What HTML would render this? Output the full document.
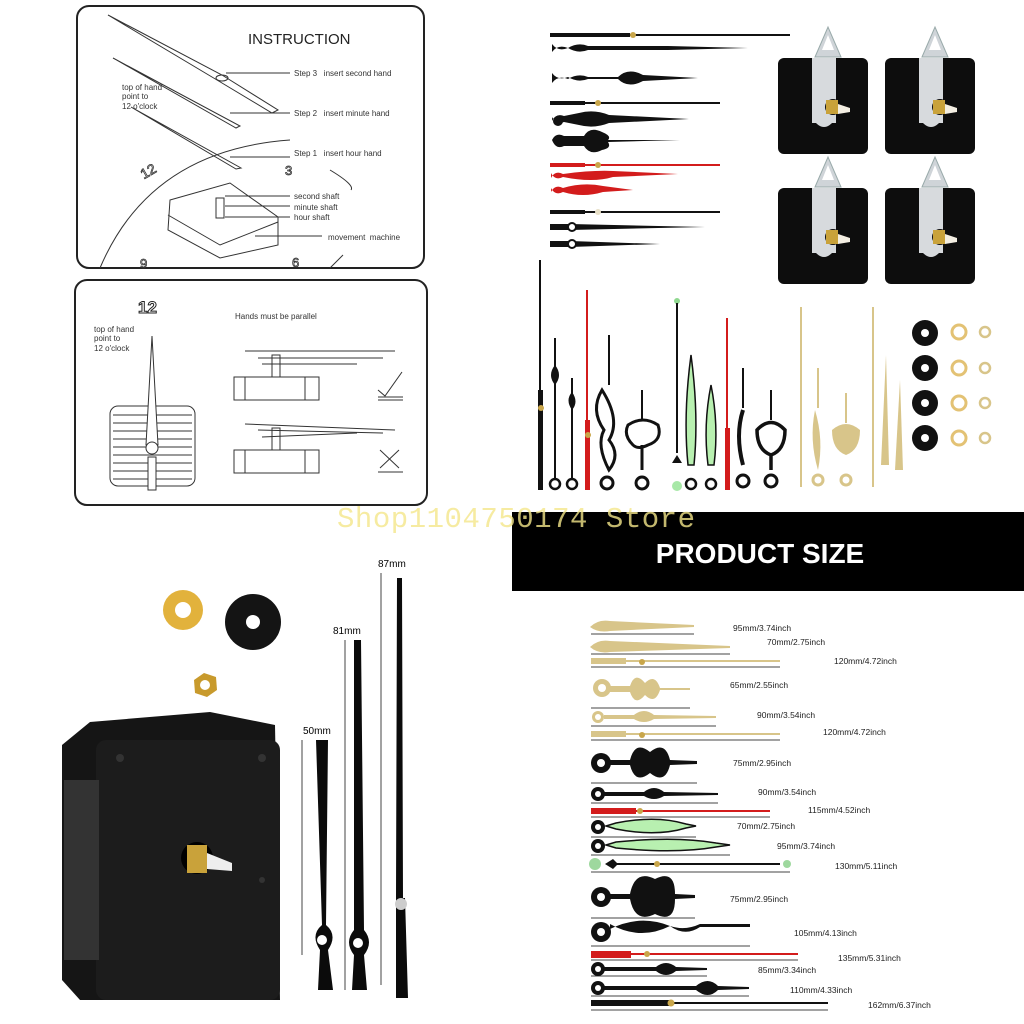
<!DOCTYPE html>
<html><head><meta charset="utf-8"><style>
html,body{margin:0;padding:0;background:#fff}
svg{display:block}
text{font-family:"Liberation Sans",sans-serif}
</style></head><body>
<svg width="1024" height="1024" viewBox="0 0 1024 1024" xmlns="http://www.w3.org/2000/svg">
<rect width="1024" height="1024" fill="#fff"/>
<rect x="77" y="6" width="347" height="262" rx="12" fill="#fff" stroke="#222" stroke-width="2"/>
<text x="248" y="44" font-size="15" fill="#222">INSTRUCTION</text>
<g fill="none" stroke="#333" stroke-width="1">
<path d="M100 268 Q150 150 290 140"/>
<path d="M330 170 Q355 185 351 190"/>
<path d="M330 268 Q340 258 343 255"/>
<path d="M108 15 L222 75 L278 110 L272 113 L217 80 Z"/>
<path d="M113 58 L240 126 L236 128 Z"/>
<path d="M131 107 L241 168 L236 169 Z"/>
<ellipse cx="222" cy="78" rx="6" ry="3"/>
<path d="M170 200 L230 183 L278 217 L278 245 L220 258 L168 230 Z"/>
<path d="M168 215 L220 245 L278 222"/>
<rect x="216" y="198" width="8" height="20"/>
<line x1="226" y1="73" x2="290" y2="73"/><line x1="230" y1="113" x2="290" y2="113"/>
<line x1="230" y1="157" x2="290" y2="157"/><line x1="225" y1="196" x2="290" y2="196"/>
<line x1="225" y1="206" x2="290" y2="206"/><line x1="225" y1="217" x2="290" y2="217"/>
<line x1="255" y1="236" x2="322" y2="236"/>
</g>
<text x="122" y="90" font-size="8" fill="#333">top of hand</text>
<text x="122" y="99" font-size="8" fill="#333">point to</text>
<text x="122" y="109" font-size="8" fill="#333">12 o'clock</text>
<text x="294" y="76" font-size="8" fill="#333">Step 3 &#160; insert second hand</text>
<text x="294" y="116" font-size="8" fill="#333">Step 2 &#160; insert minute hand</text>
<text x="294" y="156" font-size="8" fill="#333">Step 1 &#160; insert hour hand</text>
<text x="294" y="199" font-size="8" fill="#333">second shaft</text>
<text x="294" y="210" font-size="8" fill="#333">minute shaft</text>
<text x="294" y="220" font-size="8" fill="#333">hour shaft</text>
<text x="328" y="240" font-size="8" fill="#333">movement &#160;machine</text>
<text x="140" y="175" font-size="14" fill="none" stroke="#333" stroke-width="0.8" transform="rotate(-30 150 170)">12</text>
<text x="285" y="175" font-size="13" fill="none" stroke="#333" stroke-width="0.8">3</text>
<text x="140" y="268" font-size="13" fill="none" stroke="#333" stroke-width="0.8">9</text>
<text x="292" y="267" font-size="13" fill="none" stroke="#333" stroke-width="0.8">6</text>
<rect x="75" y="280" width="352" height="225" rx="12" fill="#fff" stroke="#222" stroke-width="2"/>
<text x="138" y="313" font-size="17" font-weight="bold" fill="none" stroke="#222" stroke-width="1">12</text>
<text x="94" y="332" font-size="8" fill="#333">top of hand</text>
<text x="94" y="341" font-size="8" fill="#333">point to</text>
<text x="94" y="351" font-size="8" fill="#333">12 o'clock</text>
<text x="235" y="319" font-size="8" fill="#333">Hands must be parallel</text>
<g fill="none" stroke="#333" stroke-width="1">
<rect x="110" y="406" width="85" height="80" rx="8"/>
<path d="M113 415 H192 M113 423 H192 M113 431 H192 M113 439 H192 M113 447 H192 M113 455 H192 M113 463 H192 M113 471 H192 M113 479 H192"/>
<path d="M152 336 L146 445 L158 445 Z" fill="#fff"/>
<rect x="148" y="457" width="8" height="33" fill="#fff"/>
<circle cx="152" cy="448" r="6" fill="#fff"/>
<rect x="234" y="377" width="85" height="23"/><line x1="245" y1="377" x2="245" y2="400"/><line x1="305" y1="377" x2="305" y2="400"/>
<rect x="234" y="450" width="85" height="23"/><line x1="245" y1="450" x2="245" y2="473"/><line x1="305" y1="450" x2="305" y2="473"/>
<rect x="272" y="355" width="8" height="22"/><rect x="272" y="428" width="8" height="22"/>
<line x1="245" y1="351" x2="395" y2="351"/><line x1="258" y1="358" x2="383" y2="358"/><line x1="262" y1="364" x2="357" y2="364"/>
<line x1="245" y1="424" x2="395" y2="430"/><line x1="258" y1="430" x2="383" y2="433"/><line x1="262" y1="437" x2="357" y2="433"/>
<path d="M378 390 L385 396 L402 372"/><line x1="378" y1="397" x2="403" y2="397"/><line x1="378" y1="400" x2="403" y2="400"/>
<path d="M380 450 L399 468 M399 450 L380 468"/><line x1="378" y1="472" x2="403" y2="472"/>
</g>
<g fill="#111">
<rect x="550" y="33" width="80" height="4"/><rect x="630" y="34" width="160" height="2"/><circle cx="633" cy="35" r="3" fill="#c9a64a"/>
<path d="M552 52 q6-8 16-4 q10-6 20 -2 h80 l80 2 l-80 2 h-80 q-10 4-20-2 q-10 4-16-4z"/>
<path d="M552 83 q6-8 16-4 q10-6 20 -2 h30 q10-10 25 -2 l55 3 l-55 3 q-15 8-25-2 h-30 q-10 4-20-2 q-10 4-16-4z"/>
<rect x="550" y="101" width="35" height="4"/><rect x="585" y="102" width="135" height="2"/><circle cx="598" cy="103" r="3" fill="#c9a64a"/>
<path d="M552 121 q4-8 12-5 l15 -3 q15 -4 30 2 l80 4 l-80 4 q-15 6-30 2 l-15 -3 q-8 3-12-5z"/>
<circle cx="558" cy="121" r="5"/>
<path d="M552 140 q4-8 12-4 h20 q6-10 18-4 q10 4 6 8 l72 0 l-72 2 q4 6-6 8 q-12 6-18-4 h-20 q-8 4-12-6z"/>
<g fill="#d31c1c"><rect x="550" y="163" width="35" height="4"/><rect x="585" y="164" width="135" height="2"/>
<path d="M551 178 q4-8 12-4 q30-4 50 -3 l65 3 l-65 3 q-20 6-50 0 q-8 4-12-4z"/>
<path d="M551 192 q4-8 12-4 q20-6 40 -2 l30 4 l-30 2 q-20 6-40 0 q-8 4-12-4z"/></g>
<circle cx="598" cy="165" r="3" fill="#c9a64a"/>
<rect x="550" y="210" width="35" height="4"/><rect x="585" y="211" width="135" height="2"/><circle cx="598" cy="212" r="3" fill="#e8e0c8"/>
<path d="M550 224 h20 l135 3 l-135 3 h-20z"/><circle cx="572" cy="227" r="4" fill="#fff" stroke="#111" stroke-width="2"/>
<path d="M550 241 h20 l90 3 l-90 3 h-20z"/><circle cx="572" cy="244" r="4" fill="#fff" stroke="#111" stroke-width="2"/>
</g>
<g id="mv">
<path d="M815 57 L828 27 L841 57 Z" fill="#cfd4d8" stroke="#9aa" stroke-width="1"/>
<path d="M822 50 L828 35 L834 50 Z" fill="#fff"/>
<rect x="778" y="58" width="90" height="96" rx="6" fill="#0d0d0d"/>
<rect x="812" y="58" width="24" height="65" fill="#d7dadd"/>
<path d="M812 118 q12 18 24 0" fill="#d7dadd"/>
<circle cx="833" cy="107" r="8" fill="#111"/>
<rect x="826" y="100" width="12" height="14" fill="#c9a23a"/>
<path d="M838 104 l12 4 v4 l-12 2z" fill="#f3eee2"/>
</g>
<use href="#mv" x="107"/>
<use href="#mv" y="130"/>
<use href="#mv" x="107" y="130"/>
<g fill="#111">
<rect x="539" y="260" width="2" height="130"/><rect x="538" y="390" width="5" height="100"/><circle cx="541" cy="408" r="3" fill="#c9a64a"/>
<rect x="554" y="338" width="2" height="140"/><path d="M555 365 q-8 10 0 20 q8-10 0-20z"/><circle cx="555" cy="484" r="5" fill="#fff" stroke="#111" stroke-width="2.5"/>
<rect x="571" y="378" width="2" height="100"/><path d="M572 392 q-7 8 0 18 q7-8 0-18z"/><circle cx="572" cy="484" r="5" fill="#fff" stroke="#111" stroke-width="2.5"/>
<g fill="#d31c1c"><rect x="586" y="290" width="2" height="130"/><rect x="585" y="420" width="5" height="70"/></g><circle cx="588" cy="435" r="3" fill="#c9a64a"/>
<rect x="608" y="335" width="2" height="50"/><path d="M602 390 q-12 20 2 40 q-8 15 5 40 q12-15 0-30 q12-20-7-50z" fill="none" stroke="#111" stroke-width="3"/><circle cx="607" cy="483" r="6" fill="#fff" stroke="#111" stroke-width="3"/>
<rect x="641" y="390" width="2" height="30"/><path d="M628 425 q15-10 30 0 q5 15-10 20 q-10 5-15 0 q-10-10-5-20z M642 445 v25" fill="none" stroke="#111" stroke-width="3"/><circle cx="642" cy="483" r="6" fill="#fff" stroke="#111" stroke-width="3"/>
<circle cx="677" cy="301" r="3" fill="#8fd88f"/><rect x="676" y="303" width="2" height="150"/><path d="M677 455 l-5 8 h10z"/><circle cx="677" cy="486" r="5" fill="#a7e8a7"/>
<path d="M691 355 q-8 60 -3 110 h6 q5-50 -3-110z" fill="#b8f0b0" stroke="#111" stroke-width="1.5"/><circle cx="691" cy="484" r="5" fill="#fff" stroke="#111" stroke-width="2.5"/>
<path d="M711 385 q-8 40 -3 80 h6 q5-40 -3-80z" fill="#b8f0b0" stroke="#111" stroke-width="1.5"/><circle cx="711" cy="484" r="5" fill="#fff" stroke="#111" stroke-width="2.5"/>
<g fill="#d31c1c"><rect x="726" y="318" width="2" height="110"/><rect x="725" y="428" width="5" height="62"/></g>
<rect x="742" y="368" width="2" height="40"/><path d="M743 410 q-8 25 0 55" fill="none" stroke="#111" stroke-width="4"/><circle cx="743" cy="481" r="6" fill="#fff" stroke="#111" stroke-width="3"/>
<rect x="770" y="390" width="2" height="30"/><path d="M757 430 q14-15 28 0 q0 20-14 25 q-14-5-14-25z M771 455 v15" fill="none" stroke="#111" stroke-width="3.5"/><circle cx="771" cy="481" r="6" fill="#fff" stroke="#111" stroke-width="3"/>
<g fill="#d8c58a"><rect x="800" y="307" width="2" height="180"/><rect x="817" y="368" width="2" height="40"/><path d="M815 410 q-6 30 3 60 q6-30-3-60z"/><circle cx="818" cy="480" r="5" fill="none" stroke="#d8c58a" stroke-width="3"/>
<rect x="845" y="393" width="2" height="30"/><path d="M832 430 q14-12 28 0 q0 20-14 25 q-14-5-14-25z"/><circle cx="846" cy="480" r="5" fill="none" stroke="#d8c58a" stroke-width="3"/>
<rect x="872" y="307" width="2" height="180"/><path d="M886 355 l-5 110 h8z"/><path d="M900 380 l-5 90 h8z"/></g>
</g>
<g>
<circle cx="925" cy="333" r="13" fill="#111"/><circle cx="925" cy="333" r="4" fill="#fff"/>
<circle cx="925" cy="368" r="13" fill="#111"/><circle cx="925" cy="368" r="4" fill="#fff"/>
<circle cx="925" cy="403" r="13" fill="#111"/><circle cx="925" cy="403" r="4" fill="#fff"/>
<circle cx="925" cy="438" r="13" fill="#111"/><circle cx="925" cy="438" r="4" fill="#fff"/>
<g fill="none" stroke="#e3c274" stroke-width="3"><circle cx="959" cy="332" r="7"/><circle cx="959" cy="368" r="7"/><circle cx="959" cy="403" r="7"/><circle cx="959" cy="438" r="7"/></g>
<g fill="none" stroke="#d8c58a" stroke-width="2.5"><circle cx="985" cy="332" r="5"/><circle cx="985" cy="368" r="5"/><circle cx="985" cy="403" r="5"/><circle cx="985" cy="438" r="5"/></g>
</g>
<rect x="512" y="512" width="512" height="79" fill="#000"/>
<text x="760" y="563" font-size="28" font-weight="bold" fill="#fff" text-anchor="middle">PRODUCT SIZE</text>
<text x="337" y="527" font-size="29" fill="#f4e68a" fill-opacity="0.8" textLength="358" style="font-family:'Liberation Mono',monospace">Shop1104750174 Store</text>
<circle cx="183" cy="610" r="20" fill="#e2b23c"/><circle cx="183" cy="610" r="8" fill="#fff"/>
<circle cx="253" cy="622" r="28" fill="#141414"/><circle cx="253" cy="622" r="7" fill="#fff"/>
<polygon points="194,680 204,673 216,677 217,690 207,697 195,693" fill="#c89a2c"/><circle cx="205" cy="685" r="5" fill="#fff"/>
<path d="M90 722 L210 712 L275 725 L280 1000 L80 1000 L62 980 L62 745 Z" fill="#151515"/>
<rect x="96" y="740" width="184" height="260" rx="10" fill="#1c1c1c"/>
<rect x="64" y="780" width="35" height="180" fill="#333"/>
<circle cx="197" cy="858" r="16" fill="#000"/>
<rect x="187" y="845" width="20" height="28" fill="#c9a23a"/>
<path d="M207 853 l25 10 v8 l-25 -2z" fill="#eee"/>
<circle cx="120" cy="758" r="4" fill="#333"/><circle cx="262" cy="758" r="4" fill="#333"/><circle cx="262" cy="880" r="3" fill="#333"/>
<g stroke="#444" stroke-width="1">
<line x1="302" y1="740" x2="302" y2="955"/><line x1="345" y1="640" x2="345" y2="990"/><line x1="381" y1="573" x2="381" y2="985"/>
</g>
<text x="303" y="734" font-size="10">50mm</text><text x="333" y="634" font-size="10">81mm</text><text x="378" y="567" font-size="10">87mm</text>
<g fill="#0b0b0b">
<path d="M316 740 h12 l-2 185 q12 10 2 25 l5 40 h-15 l2-40 q-10-15 2-25z"/><circle cx="322" cy="940" r="5" fill="#fff"/>
<path d="M354 640 h7 l3 290 q10 12 0 25 l3 35 h-15 l2-35 q-10-13 0-25z"/><circle cx="358" cy="943" r="5" fill="#fff"/>
<path d="M397 578 h5 l1 320 h2 l3 100 h-12 l0-100z"/><circle cx="401" cy="904" r="6" fill="#ccc"/>
</g>
<g stroke="#444" stroke-width="1">
<line x1="591" y1="634" x2="694" y2="634"/><line x1="591" y1="654" x2="730" y2="654"/><line x1="591" y1="667" x2="780" y2="667"/>
<line x1="591" y1="708" x2="690" y2="708"/><line x1="591" y1="726" x2="716" y2="726"/><line x1="591" y1="740" x2="780" y2="740"/>
<line x1="591" y1="783" x2="697" y2="783"/><line x1="591" y1="803" x2="718" y2="803"/><line x1="591" y1="817" x2="770" y2="817"/>
<line x1="591" y1="837" x2="696" y2="837"/><line x1="591" y1="855" x2="730" y2="855"/><line x1="591" y1="872" x2="790" y2="872"/>
<line x1="591" y1="918" x2="695" y2="918"/><line x1="591" y1="946" x2="750" y2="946"/><line x1="591" y1="960" x2="798" y2="960"/>
<line x1="591" y1="976" x2="707" y2="976"/><line x1="591" y1="996" x2="749" y2="996"/><line x1="591" y1="1010" x2="828" y2="1010"/>
</g>
<g fill="#d8c58a">
<path d="M590 627 q8-8 20-6 l84 4 v2 l-84 4 q-12 2-20-4z"/><path d="M590 647 q8-8 20-6 l120 5 v2 l-120 4 q-12 2-20-5z"/>
<rect x="591" y="658" width="35" height="6"/><rect x="626" y="660" width="154" height="2"/>
<circle cx="602" cy="688" r="9"/><path d="M610 686 h20 q5-15 15-3 q10-10 15 5 l30 0 v2 l-30 0 q-5 15-15 5 q-10 12-15-3 h-20z"/>
<circle cx="598" cy="717" r="6"/><path d="M604 715 h30 q10-8 20 0 l62 1 v2 l-62 1 q-10 6-20 0 h-30z"/>
<rect x="591" y="731" width="35" height="6"/><rect x="626" y="733" width="154" height="2"/>
</g>
<circle cx="602" cy="688" r="4" fill="#fff"/><circle cx="598" cy="717" r="3" fill="#fff"/>
<g fill="#111">
<circle cx="601" cy="763" r="10"/><path d="M610 760 h20 q5-20 20-8 q15-12 20 8 l27 1 v3 l-27 1 q-5 20-20 8 q-15 12-20-8 h-20z"/>
<circle cx="598" cy="794" r="7"/><path d="M604 792 h40 q10-8 20 0 l54 1 v2 l-54 1 q-10 6-20 0 h-40z"/>
<rect x="591" y="808" width="45" height="6" fill="#d31c1c"/><rect x="636" y="810" width="134" height="2" fill="#d31c1c"/>
<circle cx="598" cy="827" r="7"/><path d="M606 826 l10 -3 q40-8 70 1 l10 2 l-10 2 q-30 9-70 1 z" fill="#b8f0b0" stroke="#111" stroke-width="1.5"/>
<circle cx="598" cy="846" r="7"/><path d="M606 845 l10 -3 q60-6 100 1 l14 2 l-14 2 q-40 7-100 1 z" fill="#b8f0b0" stroke="#111" stroke-width="1.5"/>
<circle cx="595" cy="864" r="6" fill="#9ed89e"/><path d="M605 864 l8-5 l5 5 l-5 5z"/><rect x="612" y="863" width="168" height="2"/><circle cx="787" cy="864" r="4" fill="#9ed89e"/>
<circle cx="601" cy="897" r="10"/><path d="M610 894 h20 q5-25 25-15 q20-10 20 15 l20 1 v3 l-20 1 q0 25-20 15 q-20 10-25-15 h-20z"/>
<circle cx="601" cy="932" r="10"/><path d="M610 929 q30-15 60-3 q15 5 30-2 h50 v3 h-50 q-15 10-30-1 q-30 15-60-2z"/>
<rect x="591" y="951" width="40" height="7" fill="#d31c1c"/><rect x="631" y="953" width="167" height="2" fill="#d31c1c"/>
<circle cx="598" cy="969" r="7"/><path d="M604 967 h52 q10-8 20 0 l31 1 v2 l-31 1 q-10 8-20 0 h-52z"/>
<circle cx="598" cy="988" r="7"/><path d="M604 986 h92 q12-10 22 0 l31 1 v2 l-31 1 q-10 10-22 0 h-92z"/>
<rect x="591" y="1000" width="80" height="6"/><rect x="671" y="1002" width="157" height="2"/>
</g>
<g fill="#fff"><circle cx="601" cy="763" r="4"/><circle cx="598" cy="794" r="3"/><circle cx="598" cy="827" r="3"/><circle cx="598" cy="846" r="3"/><circle cx="601" cy="897" r="4"/><circle cx="601" cy="932" r="4"/><circle cx="598" cy="969" r="3"/><circle cx="598" cy="988" r="3"/></g>
<g fill="#c9a64a"><circle cx="642" cy="662" r="3"/><circle cx="642" cy="735" r="3"/><circle cx="640" cy="811" r="3"/><circle cx="657" cy="864" r="3"/><circle cx="647" cy="954" r="3"/><circle cx="671" cy="1003" r="3.5"/></g>
<g font-size="8.5" fill="#222">
<text x="733" y="631">95mm/3.74inch</text><text x="767" y="645">70mm/2.75inch</text><text x="834" y="664">120mm/4.72inch</text>
<text x="730" y="688">65mm/2.55inch</text><text x="757" y="718">90mm/3.54inch</text><text x="823" y="735">120mm/4.72inch</text>
<text x="733" y="766">75mm/2.95inch</text><text x="758" y="795">90mm/3.54inch</text><text x="808" y="813">115mm/4.52inch</text>
<text x="737" y="829">70mm/2.75inch</text><text x="777" y="849">95mm/3.74inch</text><text x="835" y="869">130mm/5.11inch</text>
<text x="730" y="902">75mm/2.95inch</text><text x="794" y="936">105mm/4.13inch</text><text x="838" y="961">135mm/5.31inch</text>
<text x="758" y="973">85mm/3.34inch</text><text x="790" y="993">110mm/4.33inch</text><text x="868" y="1008">162mm/6.37inch</text>
</g>
</svg>
</body></html>
